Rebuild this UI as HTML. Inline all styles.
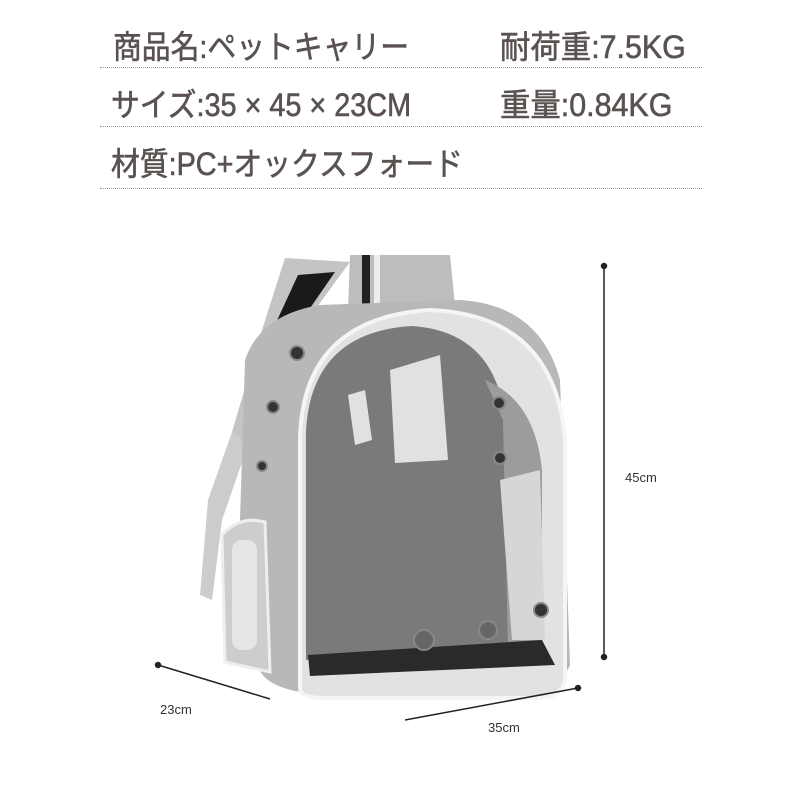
<!DOCTYPE html>
<html><head><meta charset="utf-8"><style>
body{margin:0;width:800px;height:800px;background:#fff;position:relative;overflow:hidden;font-family:"Liberation Sans","Noto Sans CJK JP",sans-serif;}
.t{position:absolute;color:#5a5250;font-size:32px;font-weight:normal;white-space:nowrap;transform:scaleX(0.9);transform-origin:0 0;-webkit-text-stroke:0.6px #5a5250;}
.hr{position:absolute;left:100px;width:602px;border-top:1px dotted #999;}
.l{position:absolute;font-size:13px;color:#333;}
</style></head><body>
<div class="t" style="left:113px;top:22px">商品名:ペットキャリー</div>
<div class="t" style="left:500px;top:22px;transform:scaleX(0.95)">耐荷重:7.5KG</div>
<div class="hr" style="top:67px"></div>
<div class="t" style="left:111px;top:80px">サイズ:35 × 45 × 23CM</div>
<div class="t" style="left:500px;top:80px;transform:scaleX(0.95)">重量:0.84KG</div>
<div class="hr" style="top:126px"></div>
<div class="t" style="left:111px;top:139px">材質:PC+オックスフォード</div>
<div class="hr" style="top:188px"></div>

<svg width="800" height="800" style="position:absolute;left:0;top:0">
<!-- strap band -->
<path d="M285 258 L350 262 L300 330 L285 420 L248 445 L232 432 L262 330 Z" fill="#c4c4c4"/>
<path d="M298 275 L335 272 L295 330 L280 415 L255 430 L268 340 Z" fill="#1a1a1a"/>
<path d="M350 255 L450 255 L455 305 L348 310 Z" fill="#bdbdbd"/>
<rect x="362" y="255" width="8" height="55" fill="#222"/>
<rect x="374" y="255" width="6" height="55" fill="#eee"/>
<path d="M232 432 L248 445 L222 520 L212 600 L200 595 L208 500 Z" fill="#ccc"/>
<!-- body back -->
<path d="M240 520 L245 360 Q260 315 320 305 L460 300 Q540 305 560 380 L570 665 Q560 690 520 690 L300 692 Q262 685 258 665 Z" fill="#b8b8b8"/>
<!-- side pocket -->
<path d="M222 535 Q240 515 265 522 L270 672 L225 662 Z" fill="#cdcdcd" stroke="#eee" stroke-width="3"/>
<rect x="232" y="540" width="25" height="110" rx="10" fill="#e6e6e6"/>
<!-- shell -->
<path d="M300 688 L300 440 Q302 318 430 310 Q555 315 565 440 L565 680 Q562 697 540 698 L320 698 Q300 697 300 688 Z" fill="#e2e2e2" stroke="#f5f5f5" stroke-width="4"/>
<path d="M306 660 L306 430 Q312 332 412 326 Q500 332 506 430 L510 650 Z" fill="#7a7a7a"/>
<path d="M485 380 Q535 400 542 470 L542 650 L508 650 L503 420 Z" fill="#9c9c9c"/>
<path d="M500 480 L540 470 L545 640 L512 640 Z" fill="#d6d6d6"/>
<path d="M308 655 L542 640 L555 665 L310 676 Z" fill="#2a2a2a"/>
<path d="M390 370 L440 355 L448 460 L395 463 Z" fill="#ececec" opacity=".9"/>
<path d="M348 395 L365 390 L372 440 L355 445 Z" fill="#ececec" opacity=".9"/>
<!-- grommets -->
<g fill="#333" stroke="#888" stroke-width="2">
<circle cx="297" cy="353" r="7"/><circle cx="273" cy="407" r="6"/><circle cx="262" cy="466" r="5"/>
<circle cx="499" cy="403" r="6"/><circle cx="500" cy="458" r="6"/>
<circle cx="424" cy="640" r="10" fill="#666"/><circle cx="488" cy="630" r="9" fill="#666"/><circle cx="541" cy="610" r="7"/>
</g>
<!-- dims -->
<g stroke="#222" stroke-width="1.5" fill="#222">
<line x1="604" y1="266" x2="604" y2="657"/><circle cx="604" cy="266" r="2.5"/><circle cx="604" cy="657" r="2.5"/>
<line x1="158" y1="665" x2="270" y2="699"/><circle cx="158" cy="665" r="2.5"/>
<line x1="405" y1="720" x2="578" y2="688"/><circle cx="578" cy="688" r="2.5"/>
</g>
</svg>
<div class="l" style="left:625px;top:470px">45cm</div>
<div class="l" style="left:160px;top:702px">23cm</div>
<div class="l" style="left:488px;top:720px">35cm</div>
</body></html>
